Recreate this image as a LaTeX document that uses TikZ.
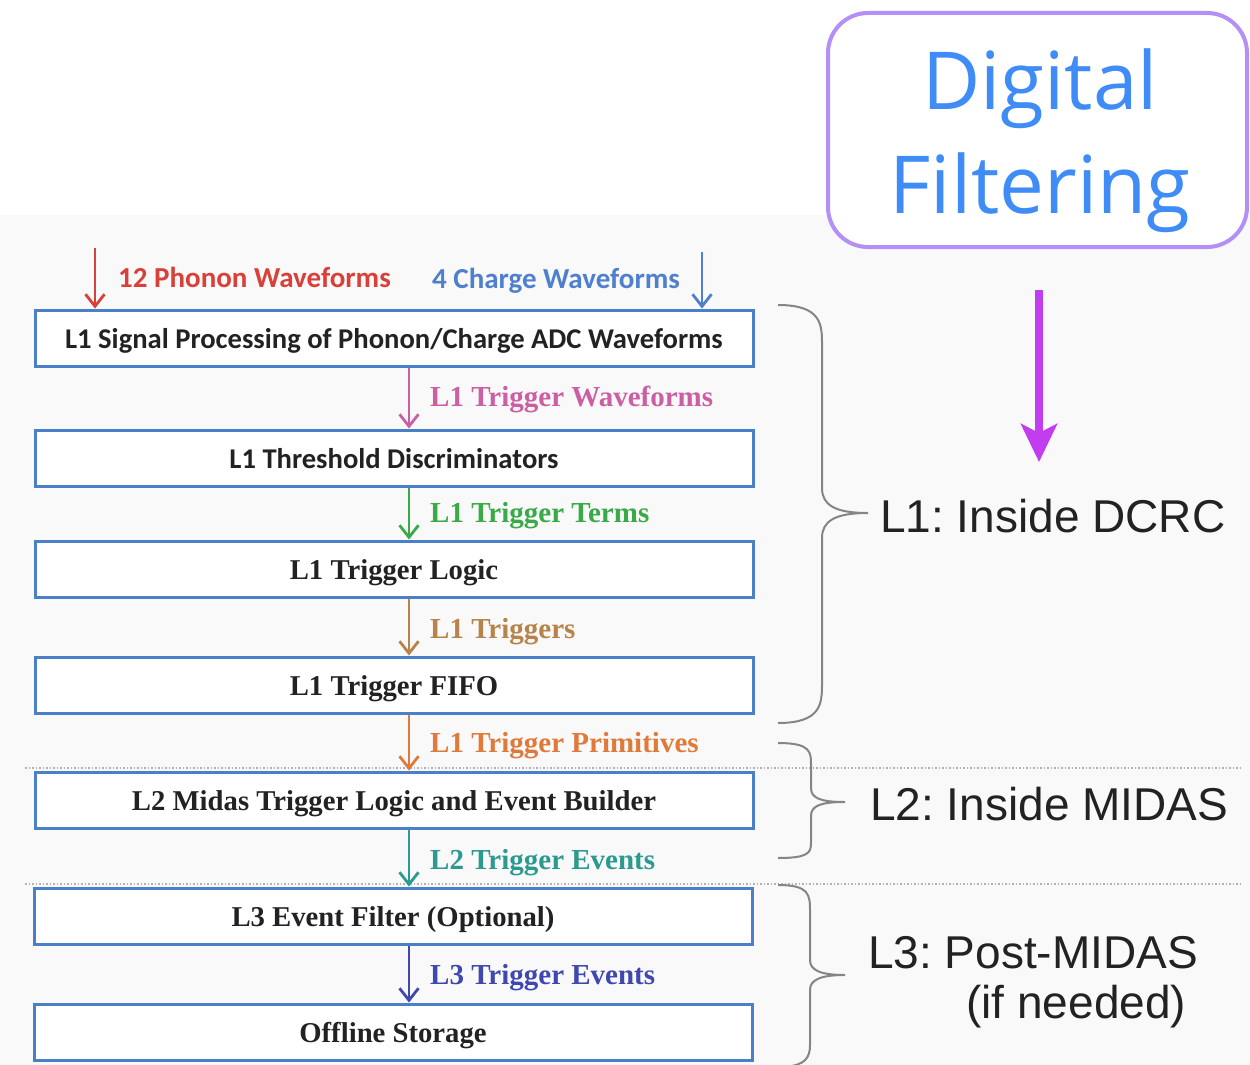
\documentclass[tikz,border=0pt]{standalone}
\usepackage{fontspec}
\setmainfont{Liberation Serif}
\newfontfamily\calfont{Carlito}
\newfontfamily\arialfont{Liberation Sans}
\newfontfamily\dffont{Open Sans}
\usetikzlibrary{arrows.meta}
\frenchspacing
\definecolor{boxblue}{HTML}{4A80C8}
\definecolor{cred}{HTML}{D9403A}
\definecolor{cblue}{HTML}{4F7FCF}
\definecolor{cpink}{HTML}{CC5FA4}
\definecolor{cgreen}{HTML}{3AAA48}
\definecolor{ctan}{HTML}{B8834A}
\definecolor{corange}{HTML}{E07A3A}
\definecolor{cteal}{HTML}{2B9A90}
\definecolor{cdblue}{HTML}{3F48B0}
\definecolor{bracegray}{HTML}{858585}
\definecolor{dfborder}{HTML}{B48FF7}
\definecolor{dftext}{HTML}{3F8CF7}
\definecolor{dfarrow}{HTML}{C23CF0}
\definecolor{bggray}{HTML}{F9F9F9}
\definecolor{txtdark}{HTML}{222222}
\begin{document}
\begin{tikzpicture}[x=1pt,y=-1pt,
  boxbase/.style={draw=boxblue, line width=3pt, fill=white, minimum width=718pt,
    minimum height=56pt, inner sep=0pt, text=txtdark, text height=20pt, text depth=0pt},
  sbox/.style={boxbase, font=\calfont\bfseries\fontsize{28.6}{32}\selectfont},
  tbox/.style={boxbase, font=\bfseries\fontsize{28.7}{32}\selectfont},
  flow/.style={line width=2.8pt, -{Straight Barb[length=12pt,width=19pt]}},
  flowlbl/.style={anchor=base west, inner sep=0pt, font=\bfseries\fontsize{29}{32}\selectfont},
  toplbl/.style={anchor=base west, inner sep=0pt, font=\calfont\bfseries\fontsize{29}{32}\selectfont},
  levlbl/.style={anchor=base west, inner sep=0pt, text=txtdark, font=\arialfont\fontsize{46}{50}\selectfont},
  bracestyle/.style={draw=bracegray, line width=2pt},
  dotline/.style={draw=gray!60, line width=1.5pt, dotted},
  dfbox/.style={draw=dfborder, line width=4pt, rounded corners=40pt, fill=white,
    minimum width=419pt, minimum height=234pt, inner sep=0pt},
  dftxt/.style={anchor=base, inner sep=0pt, text=dftext, font=\dffont\fontsize{80}{100}\selectfont},
  bigarrow/.style={draw=dfarrow, line width=8pt, -{Stealth[length=38pt,width=36pt,inset=9pt]}}
]
\useasboundingbox (0,0) rectangle (1250,1065);
\fill[bggray] (0,215) rectangle (1250,1065);

% dotted separators
\draw[dotline] (25,768) -- (1240,768);
\draw[dotline] (25,884) -- (1240,884);

% boxes
\node[sbox] (b1) at (394,338) {L1 Signal Processing of Phonon/Charge ADC Waveforms};
\node[sbox] (b2) at (394,458) {L1 Threshold Discriminators};
\node[tbox] (b3) at (394,569) {L1 Trigger Logic};
\node[tbox] (b4) at (394,685) {L1 Trigger FIFO};
\node[tbox] (b5) at (394,800) {L2 Midas Trigger Logic and Event Builder};
\node[tbox] (b6) at (393,916) {L3 Event Filter (Optional)};
\node[tbox] (b7) at (393,1032) {Offline Storage};

% inputs
\coordinate (pin) at (95,248);
\coordinate (qin) at (702,252);
\draw[flow, cred] (pin) -- (pin |- b1.north);
\draw[flow, cblue] (qin) -- (qin |- b1.north);
\node[toplbl, text=cred] (tl1) at (118,287) {12 Phonon Waveforms};
\node[toplbl, text=cblue] (tl2) at (432,288) {4 Charge Waveforms};

% flow arrows
\coordinate (ax) at (409,0);
\draw[flow, cpink] (b1.south -| ax) -- (b2.north -| ax);
\draw[flow, cgreen] (b2.south -| ax) -- (b3.north -| ax);
\draw[flow, ctan] (b3.south -| ax) -- (b4.north -| ax);
\draw[flow, corange] (b4.south -| ax) -- (b5.north -| ax);
\draw[flow, cteal] (b5.south -| ax) -- (b6.north -| ax);
\draw[flow, cdblue] (b6.south -| ax) -- (b7.north -| ax);

\node[flowlbl, text=cpink] (f1) at (430,406) {L1 Trigger Waveforms};
\node[flowlbl, text=cgreen] (f2) at (430,522) {L1 Trigger Terms};
\node[flowlbl, text=ctan] (f3) at (430,638) {L1 Triggers};
\node[flowlbl, text=corange] (f4) at (430,752) {L1 Trigger Primitives};
\node[flowlbl, text=cteal] (f5) at (430,869) {L2 Trigger Events};
\node[flowlbl, text=cdblue] (f6) at (430,984) {L3 Trigger Events};

% braces
\draw[bracestyle] (778,305) .. controls (822,305) and (822,325) .. (822,345)
  -- (822,488) .. controls (822,505) and (835,513) .. (868,513)
  .. controls (835,513) and (822,521) .. (822,538)
  -- (822,683) .. controls (822,703) and (822,723) .. (778,723);
\draw[bracestyle] (778,743) .. controls (811,743) and (811,752) .. (811,765)
  -- (811,788) .. controls (811,798) and (820,802) .. (845,802)
  .. controls (820,802) and (811,806) .. (811,816)
  -- (811,843) .. controls (811,853) and (808,858) .. (778,858);
\draw[bracestyle] (778,885) .. controls (810,885) and (810,895) .. (810,912)
  -- (810,960) .. controls (810,970) and (820,975) .. (845,975)
  .. controls (820,975) and (810,980) .. (810,990)
  -- (810,1045) .. controls (810,1058) and (805,1065) .. (785,1067);

\node[levlbl] (lv1) at (880,532) {L1: Inside DCRC};
\node[levlbl] (lv2) at (870,820) {L2: Inside MIDAS};
\node[levlbl] (lv3) at (868,968) {L3: Post-MIDAS};
\node[levlbl] (lv3b) at (966,1018) {(if needed)};

% digital filtering
\node[dfbox] (df) at (1037.5,130) {};
\node[dftxt] (dft1) at (1040,110) {Digital};
\node[dftxt] (dft2) at (1040,213) {Filtering};
\coordinate (dfs) at (1039,290);
\coordinate (dfe) at (1039,462);
\draw[bigarrow] (dfs) -- (dfe);
\end{tikzpicture}
\end{document}
